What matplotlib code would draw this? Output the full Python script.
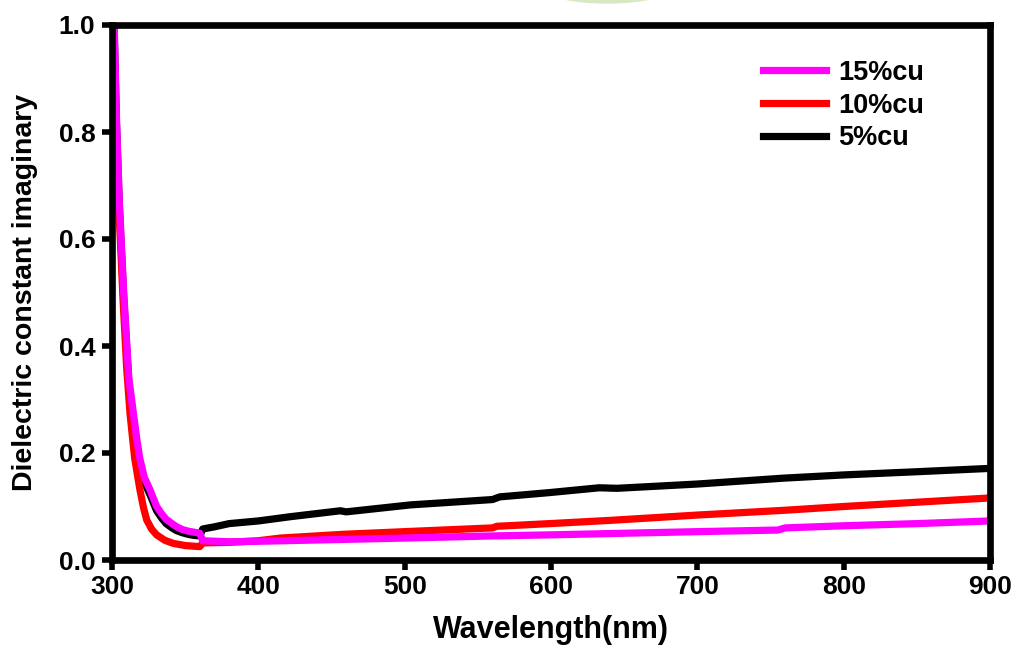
import matplotlib.pyplot as plt
from matplotlib.patches import Ellipse

plt.rcParams["font.family"] = ["Liberation Sans", "DejaVu Sans"]
plt.rcParams["font.weight"] = "bold"

# values
wl_15 = [301.5, 303, 305, 308, 311.5, 314.6, 317, 319, 322, 326, 330.5, 334, 337,
         341, 344.2, 348, 352, 356, 360,
         362, 380, 400, 450, 500, 560, 600, 650, 700, 755, 760, 800, 850, 900]
eps_15 = [1.0, 0.83, 0.67, 0.50, 0.34, 0.274, 0.225, 0.19, 0.155, 0.131, 0.100, 0.086,
          0.076, 0.068, 0.062, 0.057, 0.054, 0.052, 0.050,
          0.036, 0.034, 0.035, 0.038, 0.041, 0.045, 0.047, 0.050, 0.053, 0.056, 0.060,
          0.064, 0.068, 0.073]

wl_10 = [301, 302.5, 304.5, 307.5, 310, 312.3, 315.5, 319.1, 321.5, 323.7, 327, 330.5,
         336, 341.9, 346, 350, 355, 360,
         362, 380, 400, 415, 458, 500, 560, 563, 599, 640, 700, 760, 800, 850, 900]
eps_10 = [1.0, 0.83, 0.67, 0.49, 0.36, 0.274, 0.19, 0.131, 0.098, 0.075, 0.058, 0.047,
          0.037, 0.031, 0.029, 0.027, 0.026, 0.025,
          0.032, 0.033, 0.036, 0.041, 0.048, 0.053, 0.060, 0.063, 0.068, 0.074, 0.084,
          0.093, 0.100, 0.108, 0.116]

wl_5 = [301.5, 303, 305, 308, 311.5, 314.6, 317, 319, 322, 326, 330.5, 334, 337,
        341, 344, 348, 352, 356, 360,
        362, 370, 380, 400, 422, 456, 460, 504, 560, 565, 599, 633, 645, 700, 759,
        800, 850, 898]
eps_5 = [0.99, 0.82, 0.66, 0.49, 0.33, 0.266, 0.215, 0.18, 0.146, 0.122, 0.092, 0.078,
         0.068, 0.060, 0.055, 0.051, 0.048, 0.046, 0.045,
         0.058, 0.062, 0.068, 0.073, 0.081, 0.092, 0.090, 0.103, 0.113, 0.118, 0.126,
         0.135, 0.134, 0.142, 0.153, 0.159, 0.165, 0.171]

fig = plt.figure(figsize=(10.13, 6.47), dpi=100)
ax = fig.add_axes([112 / 1013, 1 - 560 / 647, 878 / 1013, 535 / 647])

# faint green arc at the top of the page
fig.patches.append(Ellipse((607 / 1013, 1 + 17 / 647), 145 / 1013, 40 / 647,
                           transform=fig.transFigure, color="#d9e8c4", zorder=0))

lw = 5.2
l5, = ax.plot(wl_5, eps_5, color="black", lw=lw, solid_joinstyle="round")
l10, = ax.plot(wl_10, eps_10, color="#ff0000", lw=lw, solid_joinstyle="round")
l15, = ax.plot(wl_15, eps_15, color="#ff00ff", lw=lw, solid_joinstyle="round")

ax.set_xlim(300, 900)
ax.set_ylim(0, 1.0)
ax.set_xticks(range(300, 901, 100))
ax.set_yticks([0.0, 0.2, 0.4, 0.6, 0.8, 1.0])
ax.set_yticklabels(["0.0", "0.2", "0.4", "0.6", "0.8", "1.0"])

for s in ax.spines.values():
    s.set_linewidth(4.8)
ax.tick_params(axis="both", direction="out", length=7, width=4, labelsize=19)
ax.tick_params(axis="x", pad=4)
ax.tick_params(axis="y", pad=5)

ax.set_xlabel("Wavelength(nm)", fontsize=22, fontweight="bold", labelpad=11)
ax.set_ylabel("Dielectric constant imaginary", fontsize=20.5, fontweight="bold", labelpad=15)

ax.legend([l15, l10, l5], ["15%cu", "10%cu", "5%cu"], loc="upper left",
          bbox_to_anchor=(0.742, 0.935), frameon=False, fontsize=19.5,
          handlelength=2.3, handletextpad=0.45, labelspacing=0.25,
          borderpad=0, borderaxespad=0)

fig.savefig("out.png", dpi=100)
